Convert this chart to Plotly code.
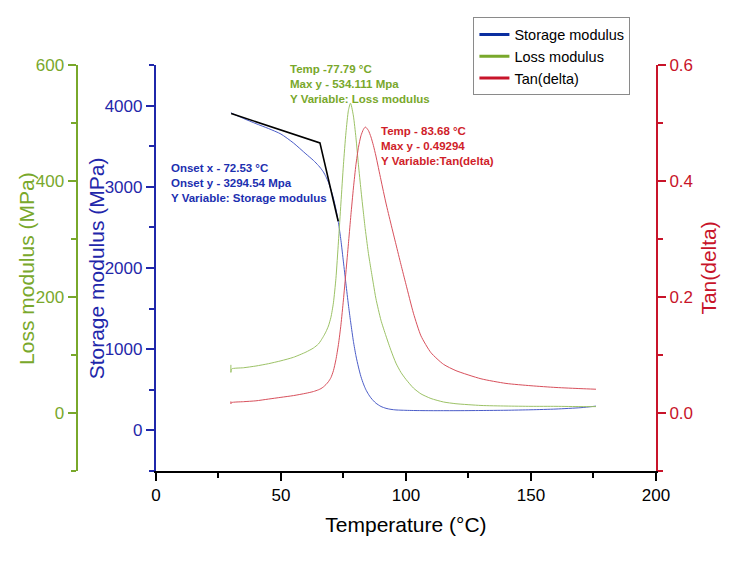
import plotly.graph_objects as go

# DMA sweep
temperature = [30.0, 30.0, 30.3, 35, 40, 45, 50, 55, 60, 63, 65, 66, 67, 68, 69, 70,
               71, 72, 73, 74, 75, 76, 77, 77.8, 78, 79, 80, 81, 82, 83, 83.7, 84,
               85, 86, 87, 88, 90, 92, 94, 96, 98, 100, 103, 106, 110, 115, 120,
               130, 140, 150, 160, 170, 176]
storage_modulus = [3914, 3914, 3908, 3842, 3778, 3718, 3650, 3540, 3405, 3325, 3262,
                   3225, 3182, 3125, 3055, 2965, 2860, 2725, 2560, 2340, 2075, 1805,
                   1545, 1355, 1310, 1095, 920, 780, 662, 572, 520, 500, 445, 400,
                   365, 335, 295, 272, 259, 252, 249, 247, 245, 244, 243, 243, 243,
                   245, 248, 254, 263, 280, 299]
loss_modulus = [83, 70, 76, 78, 81, 85, 90, 96, 105, 112, 119, 125, 132, 140, 150, 165,
                190, 232, 295, 362, 428, 483, 522, 534.1, 533, 512, 475, 428, 385,
                345, 318, 308, 275, 248, 222, 197, 160, 133, 108, 86, 70, 58, 43, 33,
                25, 19, 16, 13, 12, 11.5, 11.5, 11, 11]
tan_delta = [0.020, 0.016, 0.018, 0.0195, 0.021, 0.024, 0.027, 0.030, 0.034, 0.037,
             0.040, 0.042, 0.045, 0.049, 0.054, 0.061, 0.073, 0.092, 0.118, 0.152,
             0.195, 0.243, 0.292, 0.332, 0.342, 0.388, 0.428, 0.458, 0.478, 0.489,
             0.4929, 0.4925, 0.487, 0.476, 0.461, 0.443, 0.402, 0.362, 0.326, 0.291,
             0.256, 0.222, 0.172, 0.133, 0.104, 0.084, 0.073, 0.059, 0.051, 0.047,
             0.044, 0.042, 0.041]

# onset construction (tangent lines on storage modulus)
tangent_temp = [30.1, 65.6, 72.9]
tangent_storage = [3902, 3541, 2576]

BLUE = "#1f27aa"
GREEN = "#79a82b"
RED = "#c8142a"
FONT = "Arial, 'Liberation Sans', sans-serif"

# page body adds 8px, so figure pixels are reference pixels - 8
PAPER_W = 648
PLOT_H = 406

fig = go.Figure()
curve = dict(mode="lines", line_shape="spline", showlegend=False)
fig.add_trace(go.Scatter(x=temperature, y=storage_modulus, **curve,
                         line=dict(color="#4a5cc8", width=1, smoothing=0.6)))
fig.add_trace(go.Scatter(x=temperature, y=loss_modulus, yaxis="y2", **curve,
                         line=dict(color="#9cc266", width=1, smoothing=0.6)))
fig.add_trace(go.Scatter(x=temperature, y=tan_delta, yaxis="y3", **curve,
                         line=dict(color="#d8505c", width=1, smoothing=0.6)))
fig.add_trace(go.Scatter(x=tangent_temp, y=tangent_storage, mode="lines",
                         line=dict(color="black", width=1.6), showlegend=False))

# legend entries with thick samples
for name, col in [("Storage modulus", "#0a2ea0"), ("Loss modulus", GREEN),
                  ("Tan(delta)", RED)]:
    fig.add_trace(go.Scatter(x=[None], y=[None], mode="lines", name=name,
                             line=dict(color=col, width=3)))

axis_common = dict(showgrid=False, zeroline=False, linewidth=2, ticks="outside",
                   ticklen=8, tickwidth=2, tickfont=dict(size=17))

fig.update_layout(
    width=739, height=566,
    margin=dict(l=0, r=91, t=57, b=103),
    paper_bgcolor="white", plot_bgcolor="white",
    font=dict(family=FONT, color="black"),
    xaxis=dict(axis_common, domain=[144 / PAPER_W, 1], range=[0, 200], dtick=50,
               linecolor="black", color="black",
               minor=dict(dtick=25, ticklen=5, tickwidth=2, ticks="outside"),
               title=dict(text="Temperature (°C)", font=dict(size=21), standoff=13)),
    yaxis=dict(axis_common, range=[-500, 4500], dtick=1000, linecolor=BLUE,
               color=BLUE, anchor="x", side="left",
               minor=dict(dtick=500, ticklen=5, tickwidth=2, ticks="outside")),
    yaxis2=dict(axis_common, range=[-100, 600], dtick=200, linecolor=GREEN,
                color=GREEN, overlaying="y", anchor="free", position=64 / PAPER_W,
                side="left",
                minor=dict(dtick=100, ticklen=5, tickwidth=2, ticks="outside")),
    yaxis3=dict(axis_common, range=[-0.1, 0.6], dtick=0.2, tickformat=".1f",
                linecolor=RED, color=RED, overlaying="y", anchor="x", side="right",
                minor=dict(dtick=0.1, ticklen=5, tickwidth=2, ticks="outside")),
    legend=dict(x=464 / PAPER_W, y=1.117, xanchor="left", yanchor="top",
                bgcolor="white", bordercolor="#8a8a8a", borderwidth=1,
                font=dict(size=14.5), tracegroupgap=0, itemwidth=30),
)

# y axis titles
for text, px, col in [("Loss modulus (MPa)", 13, GREEN),
                      ("Storage modulus (MPa)", 84, BLUE),
                      ("Tan(delta)", 700, RED)]:
    fig.add_annotation(x=px / PAPER_W, y=0.5, xref="paper", yref="paper",
                       xanchor="center", yanchor="middle", textangle=-90,
                       showarrow=False, text=text, font=dict(size=21, color=col))

label_font = dict(family=FONT, size=11.5)
fig.add_annotation(x=53, y=1.009, xref="x", yref="paper", xanchor="left",
                   yanchor="top", align="left", showarrow=False,
                   text="<b>Temp -77.79 °C<br>Max y - 534.111 Mpa<br>"
                        "Y Variable: Loss modulus</b>",
                   font=dict(label_font, color=GREEN))
fig.add_annotation(x=89.4, y=3780, xref="x", yref="y", xanchor="left", yanchor="top",
                   align="left", showarrow=False,
                   text="<b>Temp - 83.68 °C<br>Max y - 0.49294<br>"
                        "Y Variable:Tan(delta)</b>",
                   font=dict(label_font, color="#d01e2a"))
fig.add_annotation(x=5.4, y=3325, xref="x", yref="y", xanchor="left", yanchor="top",
                   align="left", showarrow=False,
                   text="<b>Onset x - 72.53 °C<br>Onset y - 3294.54 Mpa<br>"
                        "Y Variable: Storage modulus</b>",
                   font=dict(label_font, color="#1c2fb0"))

fig.write_html("out.html")
